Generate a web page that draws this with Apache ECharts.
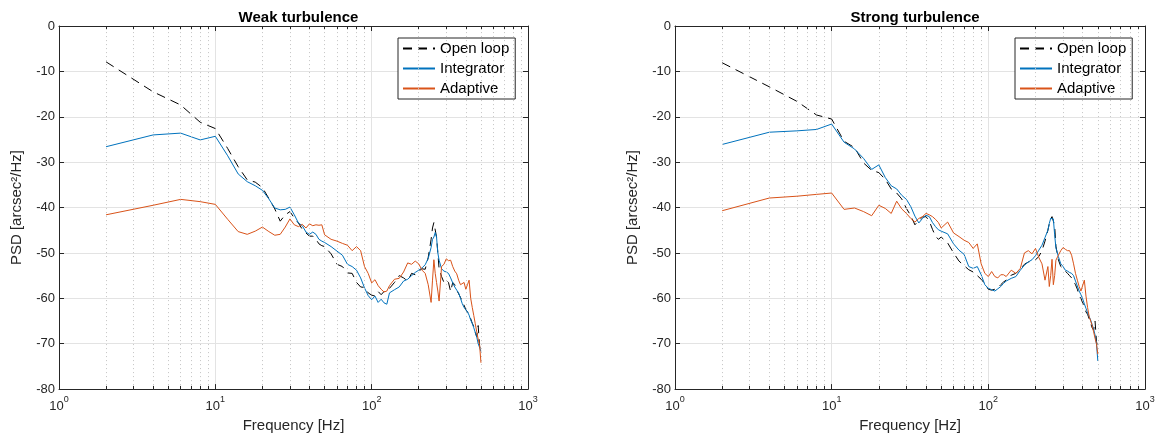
<!DOCTYPE html>
<html lang="en">
<head>
<meta charset="UTF-8">
<title>PSD</title>
<script src="https://cdn.jsdelivr.net/npm/echarts@6/dist/echarts.min.js"></script>
</head>
<body style="margin:0;background:#fff;">
<div id="main" style="width:1158px;height:438px;"></div>
<script type="text/javascript">
// frequency grid (Hz), shared by all curves
var freq = [2,4,6,8,10,12,14,16,18,20,22,24,26,28,30,32,34,36,38,40,42,44,46,48,50,
    55,60,65,70,75,80,85,90,95,100,105,110,115,120,125,130,
    140,150,160,170,180,190,200,210,220,230,240,245,250,255,260,265,270,
    280,290,300,310,320,330,340,350,360,370,380,390,400,410,420,430,440,450,460,470,480,490,500];

// weak turbulence
var weakOpen = [-7.9,-14.5,-17.4,-21.2,-22.6,-27,-31,-33.9,-34.4,-35.6,-38,-40.3,-43,-41.6,-40.9,-42.3,-43.4,-44.8,-45.6,-46.3,-46.3,-47,-48,-48.4,-48.6,
    -50.2,-52.5,-53,-54.4,-54.5,-56.5,-57.5,-57.6,-58.8,-59.3,-59.5,-58.5,-59.2,-58.5,-57.8,-57.8,
    -56.5,-55,-55.5,-56.2,-54.5,-54.8,-54,-53.5,-53.6,-51,-47,-44.5,-43.3,-43.5,-46.5,-50,-53.5,
    -55.2,-56.5,-56,-56.5,-58.5,-56.5,-57,-58.2,-59,-59.8,-60.7,-61.5,-62.5,-63,-63.5,-64.5,-65.5,-66.2,-67.5,-68.5,-66,-70.5,-72];
var weakInt = [-26.6,-24,-23.6,-25.1,-24.3,-28.6,-32.6,-34.3,-35.2,-36.2,-38.1,-40.1,-40.5,-40.4,-39.9,-41.6,-43.4,-44,-45.4,-45.9,-45.4,-45.9,-47,-47.4,-47.7,
    -48.6,-49.6,-50.5,-52.5,-53,-53.8,-55.5,-57.7,-59.4,-60.3,-59.5,-60.9,-60.2,-61,-61.3,-58.8,
    -58.1,-57.5,-56.2,-55.8,-55,-54.3,-53.8,-53.3,-52.6,-51.2,-48.8,-47,-46.5,-45.5,-46.5,-50,-51.6,
    -53.5,-54,-54.2,-54.5,-55.5,-56.6,-57.5,-58.2,-58.8,-60,-61.2,-62,-62.5,-63,-63.7,-64.8,-65.5,-66.5,-67.5,-68.5,-70,-70.8,-71.7];
var weakAda = [-41.6,-39.5,-38.2,-38.7,-39.3,-42.6,-45.3,-45.9,-45.2,-44.3,-45.3,-46.1,-45.9,-44.3,-42.5,-43.8,-44.2,-43.7,-44.5,-43.6,-44,-43.8,-43.9,-43.8,-46,
    -47,-47.4,-47.9,-48.3,-49.5,-48.6,-49.5,-53,-54.5,-56.6,-55.9,-57.2,-58,-58.6,-58.4,-57.2,
    -55.8,-55.6,-54.2,-52.2,-52.5,-51.8,-52.4,-53.8,-54.5,-57,-60.9,-56,-51.5,-54.5,-56.5,-58.4,-60.6,
    -53,-52.5,-51.3,-51.7,-51.6,-53,-54,-54.6,-56,-57,-57.4,-56.5,-58,-57,-56,-60,-62,-63.8,-65.6,-67.4,-69,-70.2,-74.2];

// strong turbulence
var strongOpen = [-8.1,-13.4,-16.6,-19.6,-20.5,-25.4,-26.8,-30.2,-31.8,-32.3,-33.8,-35.9,-36.8,-38.1,-40.2,-41.8,-43.8,-42.8,-42.1,-42,-43,-44.8,-46.3,-47,-46.5,
    -47.8,-50,-51.8,-52.8,-53.7,-54.2,-55,-55.8,-56.8,-58,-58.2,-58,-57.7,-57,-56.4,-56,
    -54.9,-54.5,-53.5,-52.5,-52,-51.8,-51.5,-50.8,-49.5,-47.4,-45,-43.5,-42.5,-42,-42.2,-44,-48.5,
    -51.5,-53,-53.5,-54,-54.5,-55,-55.5,-55.5,-57,-58,-59.5,-60,-61,-61.5,-63,-63.5,-64.5,-65.5,-66.5,-67,-65,-69.5,-71];
var strongInt = [-26.1,-23.4,-23.1,-22.8,-21.6,-25.6,-27.1,-29.2,-31.6,-30.6,-33.4,-35.2,-35.9,-37.3,-38.2,-39.8,-41.9,-43.4,-42.4,-41.7,-42,-43.3,-44.2,-44.9,-45.2,
    -45.8,-48,-49.4,-50.3,-53,-53.4,-53,-54.8,-57,-57.8,-58.1,-58.4,-57.9,-57.4,-56.7,-56.2,
    -55.6,-55.2,-53.8,-52.7,-52,-51.5,-50.6,-49.4,-48.3,-46.6,-45,-43.5,-42.4,-42,-42.5,-46,-48.9,
    -50.8,-52.4,-53,-53.8,-54,-54.3,-54.5,-55,-56.2,-57.3,-58.4,-59.2,-60.1,-61.2,-62.2,-63.2,-64,-64.8,-65.8,-66.8,-68.1,-70,-73.8];
var strongAda = [-40.7,-37.9,-37.5,-37.1,-36.8,-40.4,-40.1,-40.9,-41.8,-39.5,-40.2,-41.3,-38.6,-40.3,-41.3,-42.4,-43.2,-42.4,-42,-41.3,-41.6,-42,-42.6,-43.3,-44.5,
    -43.2,-45.6,-46.4,-47.2,-47.7,-49,-48,-52.4,-54.5,-55.2,-54.1,-55.2,-55.5,-54.8,-54.8,-55.2,
    -53.8,-54.5,-53.4,-50,-49.5,-50.2,-49,-51,-52.4,-56,-53,-57.4,-55,-51.4,-57,-55,-51.6,
    -50.5,-49.5,-48.8,-49.2,-49.5,-49.5,-50.5,-52.4,-54.5,-56,-57.4,-58.4,-58,-56,-59.5,-62,-64,-65,-66,-67.4,-68.8,-70,-72.3];

// minor log grid positions
var minorX = [2,3,4,5,6,7,8,9,20,30,40,50,60,70,80,90,200,300,400,500,600,700,800,900];
var names = ['Open loop', 'Integrator', 'Adaptive'];
var titles = ['Weak turbulence', 'Strong turbulence'];

var axisColor = '#262626';
var font = 'Liberation Sans';

function pairs(arr) {
    return freq.map(function (f, i) { return [f, arr[i]]; });
}

var grids = [
    {left: 59, top: 26, width: 469, height: 373},
    {left: 675, top: 26, width: 470, height: 373}
];

var boxLine = {show: true, onZero: false, lineStyle: {color: axisColor, width: 1}};
var boxTick = {show: true, inside: true, length: 5, lineStyle: {color: axisColor}};

var xAxes = [], yAxes = [], series = [], legends = [], titleList = [];

grids.forEach(function (g, k) {
    xAxes.push({
        type: 'log', logBase: 10, min: 1, max: 1000, gridIndex: k, position: 'bottom',
        name: 'Frequency [Hz]', nameLocation: 'middle', nameGap: 23,
        nameTextStyle: {color: axisColor, fontSize: 15, fontFamily: font},
        axisLine: boxLine, axisTick: boxTick,
        axisLabel: {
            margin: 6, color: axisColor,
            formatter: function (v) { return '{b|10}{s|' + Math.round(Math.log10(v)) + '}'; },
            rich: {
                b: {fontSize: 13, fontFamily: font, color: axisColor, lineHeight: 18, verticalAlign: 'bottom'},
                s: {fontSize: 9, fontFamily: font, color: axisColor, lineHeight: 18, verticalAlign: 'top'}
            }
        },
        splitLine: {show: true, lineStyle: {color: '#e3e3e3', width: 1}}
    });
    xAxes.push({
        type: 'log', logBase: 10, min: 1, max: 1000, gridIndex: k, position: 'top',
        axisLine: boxLine, axisTick: boxTick,
        axisLabel: {show: false}, splitLine: {show: false}
    });
    yAxes.push({
        type: 'value', min: -80, max: 0, interval: 10, gridIndex: k, position: 'left',
        name: 'PSD [arcsec\u00b2/Hz]', nameLocation: 'middle', nameGap: 35, nameRotate: 90,
        nameTextStyle: {color: axisColor, fontSize: 15, fontFamily: font},
        axisLine: boxLine, axisTick: boxTick,
        axisLabel: {color: axisColor, fontSize: 13, fontFamily: font, margin: 4},
        splitLine: {show: true, lineStyle: {color: '#e3e3e3', width: 1}}
    });
    yAxes.push({
        type: 'value', min: -80, max: 0, interval: 10, gridIndex: k, position: 'right',
        axisLine: boxLine, axisTick: boxTick,
        axisLabel: {show: false}, splitLine: {show: false}
    });

    var xi = k * 2, yi = k * 2;
    // dotted minor grid
    series.push({
        type: 'line', xAxisIndex: xi, yAxisIndex: yi, data: [], silent: true, z: 1,
        markLine: {
            silent: true, symbol: ['none', 'none'], label: {show: false}, animation: false,
            lineStyle: {color: '#c4c4c4', type: [1, 3], width: 1},
            data: minorX.map(function (m) { return {xAxis: m}; })
        }
    });
    // minor ticks on bottom and top edges
    var tickSegs = [];
    minorX.forEach(function (m) {
        tickSegs.push([{coord: [m, -80]}, {coord: [m, -79.3]}]);
        tickSegs.push([{coord: [m, 0]}, {coord: [m, -0.7]}]);
    });
    series.push({
        type: 'line', xAxisIndex: xi, yAxisIndex: yi, data: [], silent: true, z: 2,
        markLine: {
            silent: true, symbol: ['none', 'none'], label: {show: false}, animation: false,
            lineStyle: {color: axisColor, type: 'solid', width: 1},
            data: tickSegs
        }
    });
    var sets = k === 0 ? [weakOpen, weakInt, weakAda] : [strongOpen, strongInt, strongAda];
    var styles = [
        {color: '#000000', width: 1, type: [9, 6]},
        {color: '#0072BD', width: 1, type: 'solid'},
        {color: '#D95319', width: 1, type: 'solid'}
    ];
    sets.forEach(function (arr, j) {
        series.push({
            name: names[j], type: 'line', xAxisIndex: xi, yAxisIndex: yi,
            data: pairs(arr), showSymbol: false, symbol: 'none', z: 3 + j,
            lineStyle: styles[j], itemStyle: {color: styles[j].color}, animation: false
        });
    });

    titleList.push({
        text: titles[k], left: g.left + g.width / 2, top: 5, textAlign: 'center',
        textStyle: {fontSize: 15, fontWeight: 'bold', color: '#000', fontFamily: font}
    });
    legends.push({
        data: names, orient: 'vertical', left: g.left + g.width - 130, top: 38,
        itemWidth: 32, itemHeight: 14, itemGap: 5,
        itemStyle: {opacity: 0},
        backgroundColor: '#fff', borderColor: axisColor, borderWidth: 1, borderRadius: 0,
        padding: [3, 6, 3, 4],
        textStyle: {fontSize: 15, color: '#000', fontFamily: font},
        selectedMode: false
    });
});

var myChart = echarts.init(document.getElementById('main'), null, {renderer: 'canvas'});
var option = {
    animation: false,
    backgroundColor: '#fff',
    title: titleList,
    legend: legends,
    grid: grids.map(function (g) { return Object.assign({containLabel: false, show: false}, g); }),
    xAxis: xAxes,
    yAxis: yAxes,
    series: series
};
option && myChart.setOption(option);
</script>
</body>
</html>
